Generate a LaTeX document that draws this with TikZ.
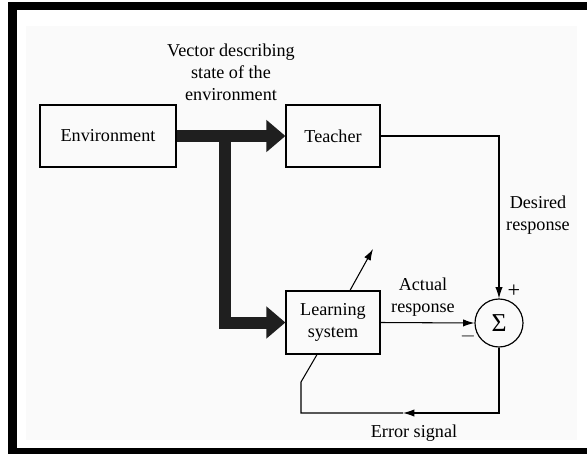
\documentclass[tikz,border=0pt]{standalone}
\usepackage{fontspec}
\setmainfont{Liberation Serif}
\usetikzlibrary{arrows.meta,positioning,calc}

\tikzset{
    block/.style={draw, line width=1pt, minimum height=1.86cm, inner sep=2pt,
        font=\fontsize{15.5}{18.7}\selectfont},
    lbl/.style={align=center, inner sep=0pt, font=\fontsize{15.5}{18.7}\selectfont},
    sig/.style={line width=0.9pt, -{Latex[length=0.34cm,width=0.22cm]}},
    bus/.style={line width=0.36cm, draw=black!88, -{Triangle[length=0.57cm,width=0.93cm]}},
}

\begin{document}
\begin{tikzpicture}[x=0.03cm, y=-0.03cm]

    \useasboundingbox (0,0) rectangle (587,454);
    \fill[black!2] (26,26) rectangle (577,440);
    \fill (8,2) rectangle (587,10);
    \fill (8,2) rectangle (17,454);
    \fill (8,448) rectangle (587,454);

    \node[block, minimum width=4.08cm] (env) at (108,136) {Environment};
    \node[block, minimum width=2.82cm] (teacher) at (333,136) {Teacher};
    \node[block, minimum width=2.82cm, minimum height=1.89cm, align=center] (learn) at (333,322.5) {Learning\\system};
    \node[draw, circle, line width=1pt, minimum size=1.44cm, inner sep=0pt,
        font=\fontsize{22}{22}\selectfont] (sigma) at (499,323) {Σ};

    \coordinate (split) at (225,136);
    \coordinate (adapt) at (373,249);
    \coordinate (errmid) at (403,413);
    \coordinate (errleft) at (301,413);
    \coordinate (errup) at (301,382);

    \draw[bus] (env.east) -- (teacher.west);
    \draw[bus] (split) |- (learn.west);

    \draw[sig] (teacher.east) -| (sigma.north);
    \draw[sig] (learn.east) -- (sigma.west);
    \draw[sig] ([xshift=0.51cm]learn.north) -- (adapt);
    \draw[sig] (sigma.south) |- (errmid);
    \draw[line width=0.9pt] (errmid) -- (errleft) -- (errup) -- ([xshift=-0.48cm]learn.south);

    \node[lbl] (vec) at (231,72) {Vector describing\\state of the\\environment};
    \node[lbl] (des) at (538,215) {Desired\\response};
    \node[lbl] (act) at (423,297) {Actual\\response};
    \node[lbl] (err) at (414,433) {Error signal};
    \node[lbl, font=\fontsize{19}{19}\selectfont] (plus) at (514,291) {+};
    \node[lbl, font=\fontsize{17}{17}\selectfont] (minus) at (468,336) {$-$};

\end{tikzpicture}
\end{document}
